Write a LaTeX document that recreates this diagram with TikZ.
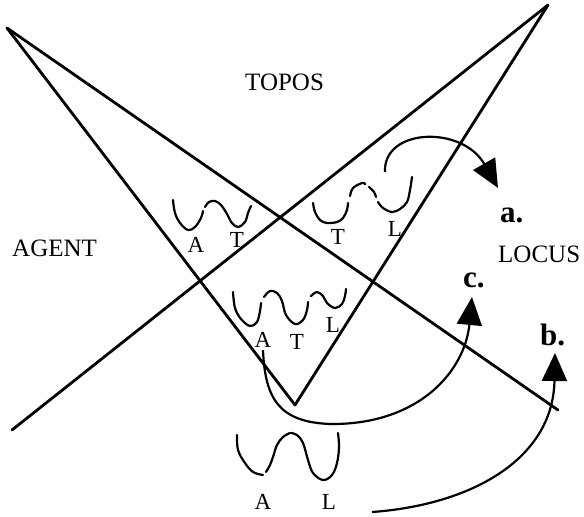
\documentclass[tikz,border=0pt]{standalone}
\usepackage{fontspec}
\setmainfont{Liberation Serif}
\usetikzlibrary{arrows.meta}
\begin{document}
\begin{tikzpicture}[x=1pt,y=-1pt,
  bigline/.style={line width=2.8pt, line cap=round, line join=round},
  squig/.style={line width=2.2pt, line cap=round},
  arr/.style={line width=2.2pt, -{Triangle[length=28pt,width=25pt]}},
  lab/.style={font=\fontsize{23}{23}\selectfont, inner sep=0pt},
  word/.style={font=\fontsize{25}{25}\selectfont, inner sep=0pt, anchor=base west},
  tag/.style={font=\fontsize{31}{31}\selectfont\bfseries, inner sep=0pt, anchor=base west}]
\useasboundingbox (0,0) rectangle (584,517);

% corner points of the two crossing triangles
\coordinate (tl) at (7,28);
\coordinate (tr) at (548,5);
\coordinate (v)  at (295,405);
\coordinate (bl) at (12,430);
\coordinate (br) at (558,410);

\draw[bigline] (tl) -- (v) -- (tr);
\draw[bigline] (tl) -- (br);
\draw[bigline] (tr) -- (bl);

% region names
\node[word] (topos) at (245,90) {TOPOS};
\node[word] (agent) at (12,256) {AGENT};
\node[word] (locus) at (498,262) {LOCUS};

% outcome tags
\node[tag] (ta) at (500,222) {a.};
\node[tag] (tb) at (540,345) {b.};
\node[tag] (tc) at (463,287) {c.};

% A-T bond, left region
\draw[squig] plot[smooth, tension=0.6] coordinates {(173,200) (175,213) (180,223) (188,230) (195,227) (201,218) (203,211)};
\draw[squig] plot[smooth, tension=0.6] coordinates {(205,207) (209,202) (215,201) (221,205) (227,214) (232,223) (238,227) (245,222) (248,213) (251,206)};
\node[lab] (a1) at (196,245) {A};
\node[lab] (t1) at (237,240) {T};

% T-L bond, right region
\draw[squig] plot[smooth, tension=0.6] coordinates {(313,203) (315,212) (320,220) (327,223) (337,222) (343,218) (347,210) (348,203)};
\draw[squig] plot[smooth, tension=0.6] coordinates {(350,196) (353,188) (362,183) (365,184)};
\draw[squig] plot[smooth, tension=0.6] coordinates {(369,187) (374,192) (376,197)};
\draw[squig] plot[smooth, tension=0.6] coordinates {(378,202) (383,208) (392,212) (400,209) (407,202) (410,190) (412,177)};
\node[lab] (t2) at (338,237) {T};
\node[lab] (l2) at (395,229) {L};

% A-T-L bond, centre region
\draw[squig] plot[smooth, tension=0.6] coordinates {(233,292) (235,308) (241,319) (250,326) (257,322) (260,311) (261,303)};
\draw[squig] plot[smooth, tension=0.6] coordinates {(264,297) (270,291) (277,293) (282,301) (286,315) (295,324) (303,320) (307,310) (308,302)};
\draw[squig] plot[smooth, tension=0.6] coordinates {(311,296) (317,292) (323,296) (327,303) (335,308) (342,304) (345,296) (346,289)};
\node[lab] (a3) at (263,340) {A};
\node[lab] (t3) at (297,342) {T};
\node[lab] (l3) at (333,325) {L};

% A-L bond, below
\draw[squig] plot[smooth, tension=0.6] coordinates {(237,435) (238,450) (245,463) (253,472) (263,475)};
\draw[squig] plot[smooth, tension=0.6] coordinates {(266,472) (270,465) (273,457) (277,445) (283,437) (290,433)};
\draw[squig] plot[smooth, tension=0.6] coordinates {(291,433) (297,435) (303,443) (308,460) (313,473) (323,480) (332,475) (337,463) (339,447) (338,433)};
\node[lab] (a4) at (263,502) {A};
\node[lab] (l4) at (329,502) {L};

% outcome arrows
\coordinate (sa) at (385,172);
\coordinate (ea) at (498,188);
\coordinate (sc) at (263,350);
\coordinate (mc) at (330,424);
\coordinate (ec) at (472,297);
\coordinate (sb) at (372,512);
\coordinate (eb) at (555,353);

\draw[arr] (sa) .. controls (383,128) and (462,125) .. (ea);
\draw[arr] (sc) .. controls (265,400) and (280,422) .. (mc) .. controls (420,425) and (465,370) .. (ec);
\draw[arr] (sb) .. controls (470,505) and (553,460) .. (eb);
\end{tikzpicture}
\end{document}
